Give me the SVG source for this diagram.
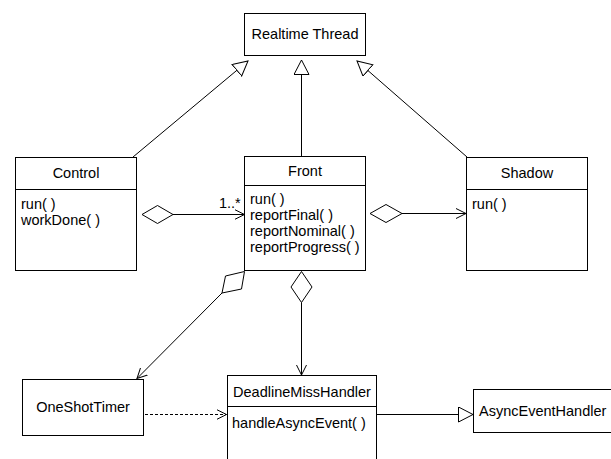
<svg xmlns="http://www.w3.org/2000/svg" width="611" height="459" viewBox="0 0 611 459">
<style>
.box{fill:#fff;stroke:#000;stroke-width:1}
.ln{fill:none;stroke:#000;stroke-width:1}
.dash{stroke-dasharray:3,2}
.dia{fill:#fff;stroke:#000;stroke-width:1}
text{font-family:"Liberation Sans",Arial,sans-serif;font-size:14.5px;fill:#000}
.c{text-anchor:middle}
</style>
<defs>
<marker id="gen" markerWidth="17" markerHeight="17" refX="15" refY="8" orient="auto" markerUnits="userSpaceOnUse">
<path d="M0.5,0.5 L15,8 L0.5,15.5 Z" fill="#fff" stroke="#000" stroke-width="1"/>
</marker>
<marker id="open" markerWidth="12" markerHeight="12" refX="10" refY="5.5" orient="auto" markerUnits="userSpaceOnUse">
<path d="M0,0.5 L10,5.5 L0,10.5" fill="none" stroke="#000" stroke-width="1"/>
</marker>
</defs>
<rect width="611" height="459" fill="#fff"/>
<g id="connectors">
<line class="ln" x1="133" y1="157" x2="248" y2="61" marker-end="url(#gen)"/>
<line class="ln" x1="301.5" y1="156" x2="301.5" y2="60" marker-end="url(#gen)"/>
<line class="ln" x1="467" y1="157" x2="357" y2="61" marker-end="url(#gen)"/>
<polygon class="dia" points="142,214.5 157.5,205.5 173,214.5 157.5,223.5"/>
<line class="ln" x1="173" y1="214.5" x2="244.5" y2="214.5" marker-end="url(#open)"/>
<polygon class="dia" points="370,213.5 386,204.5 402,213.5 386,222.5"/>
<line class="ln" x1="402" y1="213.5" x2="466" y2="213.5" marker-end="url(#open)"/>
<polygon class="dia" points="301.5,271.5 312,287 301.5,302.5 291,287"/>
<line class="ln" x1="301.5" y1="302.5" x2="301.5" y2="375" marker-end="url(#open)"/>
<polygon class="dia" points="244.5,271.5 241.5,289 222,293 225.5,276"/>
<line class="ln" x1="222" y1="293" x2="137" y2="378.5" marker-end="url(#open)"/>
<line class="ln dash" x1="145" y1="414.5" x2="226.5" y2="414.5" marker-end="url(#open)"/>
<line class="ln" x1="377" y1="414.5" x2="473" y2="414.5" marker-end="url(#gen)"/>
</g>
<g id="realtime-thread">
<rect class="box" x="244.5" y="13.5" width="121" height="42"/>
<text class="c" x="305" y="39">Realtime Thread</text>
</g>
<g id="control">
<rect class="box" x="15.5" y="157.5" width="121" height="113"/>
<line class="ln" x1="15.5" y1="189.5" x2="136.5" y2="189.5"/>
<text class="c" x="76" y="178">Control</text>
<text x="21" y="209">run( )</text>
<text x="21" y="225">workDone( )</text>
</g>
<g id="front">
<rect class="box" x="244.5" y="156.5" width="121" height="114"/>
<line class="ln" x1="244.5" y1="185.5" x2="365.5" y2="185.5"/>
<text class="c" x="305" y="176">Front</text>
<text x="250" y="204">run( )</text>
<text x="250" y="220">reportFinal( )</text>
<text x="250" y="236">reportNominal( )</text>
<text x="250" y="252">reportProgress( )</text>
</g>
<text x="219" y="208">1..*</text>
<g id="shadow">
<rect class="box" x="466.5" y="157.5" width="121" height="113"/>
<line class="ln" x1="466.5" y1="189.5" x2="587.5" y2="189.5"/>
<text class="c" x="527" y="178">Shadow</text>
<text x="472" y="209">run( )</text>
</g>
<g id="oneshottimer">
<rect class="box" x="22.5" y="379.5" width="121" height="56"/>
<text class="c" x="83" y="412">OneShotTimer</text>
</g>
<g id="deadlinemisshandler">
<rect class="box" x="227.5" y="375.5" width="149" height="100"/>
<line class="ln" x1="227.5" y1="406.5" x2="376.5" y2="406.5"/>
<text class="c" x="302" y="397">DeadlineMissHandler</text>
<text x="232" y="428">handleAsyncEvent( )</text>
</g>
<g id="asynceventhandler">
<rect class="box" x="473.5" y="389.5" width="150" height="43"/>
<text x="479" y="416">AsyncEventHandler</text>
</g>
</svg>
